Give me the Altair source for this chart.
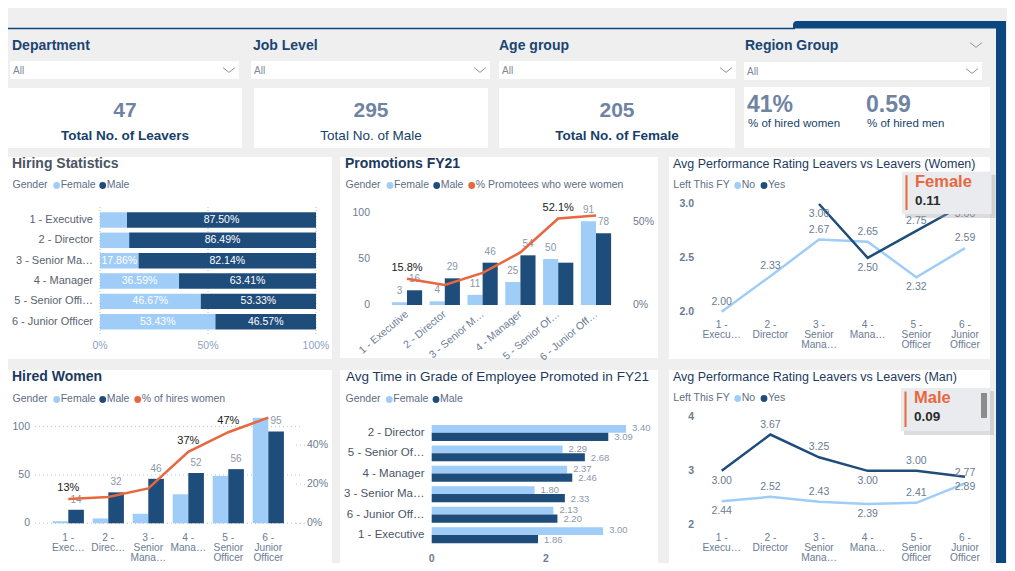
import altair as alt
import pandas as pd

# ======================= DATA =======================
filter_names = ["Department", "Job Level", "Age group", "Region Group"]
filter_values = ["All", "All", "All", "All"]

kpi_values = ["47", "295", "205"]
kpi_labels = ["Total No. of Leavers", "Total No. of Male", "Total No. of Female"]
hired_share_values = ["41%", "0.59"]
hired_share_labels = ["% of hired women", "% of hired men"]

hiring_levels = ["1 - Executive", "2 - Director", "3 - Senior Ma…", "4 - Manager",
                 "5 - Senior Offi…", "6 - Junior Officer"]
hiring_female = [12.50, 13.51, 17.86, 36.59, 46.67, 53.43]
hiring_male = [87.50, 86.49, 82.14, 63.41, 53.33, 46.57]
hiring_ticks = [0, 50, 100]

promo_levels = ["1 - Executive", "2 - Director", "3 - Senior M…", "4 - Manager",
                "5 - Senior Of…", "6 - Junior Off…"]
promo_female = [3, 4, 11, 25, 50, 91]
promo_male = [16, 29, 46, 54, 46, 78]
promo_pct_labels = ["15.8%", "", "", "", "52.1%", ""]
promo_left_ticks = [0, 50, 100]
promo_right_ticks = [0, 50]

hired_levels = ["1 -\nExec…", "2 -\nDirec…", "3 -\nSenior\nMana…", "4 -\nMana…",
                "5 -\nSenior\nOfficer", "6 -\nJunior\nOfficer"]
hired_female = [2, 5, 10, 30, 49, 112]
hired_male = [14, 32, 46, 52, 56, 95]
hired_pct_labels = ["13%", "", "", "37%", "47%", ""]
hired_left_ticks = [0, 50, 100]
hired_right_ticks = [0, 20, 40]

grade_levels = ["2 - Director", "5 - Senior Of…", "4 - Manager", "3 - Senior Ma…",
                "6 - Junior Off…", "1 - Executive"]
grade_female = [3.40, 2.29, 2.37, 1.80, 2.13, 3.00]
grade_male = [3.09, 2.68, 2.46, 2.33, 2.20, 1.86]
grade_ticks = [0, 2]

perf_levels = ["1 -\nExecu…", "2 -\nDirector", "3 -\nSenior\nMana…", "4 -\nMana…",
               "5 -\nSenior\nOfficer", "6 -\nJunior\nOfficer"]
perf_w_no = [2.00, 2.33, 2.67, 2.65, 2.32, 2.59]
perf_w_yes = [None, None, 3.00, 2.50, 2.75, 3.00]
perf_w_ticks = [2.0, 2.5, 3.0]
perf_m_no = [2.44, 2.52, 2.43, 2.39, 2.41, 2.77]
perf_m_yes = [3.00, 3.67, 3.25, 3.00, 3.00, 2.89]
perf_m_ticks = [2, 3, 4]

tooltip_names = ["Female", "Male"]
tooltip_values = ["0.11", "0.09"]

# ======================= LAYOUT / STYLE =======================
promo_male_labelled = [True, True, True, True, False, True]
perf_w_no_side = ["above", "above", "above", "above", "below", "above"]
perf_w_yes_side = ["", "", "below", "below", "above", "below"]
perf_m_no_side = ["below", "above", "above", "below", "above", "above"]
perf_m_yes_side = ["below", "above", "above", "below", "above", "below"]

OFF = 8
W, H = 999, 555
FONT = "Liberation Sans"
FEM = "#9fcdf7"
MAL = "#1f4d7b"
ORG = "#e8673e"
BG = "#efefef"
BORDER = "#0d477f"
NAVY_T = "#1a4573"
KPI_NUM = "#6f84a2"
KPI_LAB = "#173f6a"
PANEL_T = "#1c3a5e"
HS_T = "#4a5562"
LEG = "#5e6e85"
AX = "#6b7c93"
VAL = "#8a98aa"


def px(v):
    return v - OFF


BASE = pd.DataFrame({"k": [0]})
layers = []


def S(d0, d1, r0, r1, **kw):
    return alt.Scale(domain=[d0, d1], range=[px(r0), px(r1)], nice=False, zero=False, **kw)


def ax(f, sc):
    return alt.X(f, scale=sc, axis=None)


def ay(f, sc):
    return alt.Y(f, scale=sc, axis=None)


def box(x1, y1, x2, y2, fill, **kw):
    layers.append(alt.Chart(BASE).mark_rect(color=fill, **kw).encode(
        x=alt.value(px(x1)), x2=alt.value(px(x2)), y=alt.value(px(y1)), y2=alt.value(px(y2))))


def txt(s, x, y, size=10, color="#333333", weight="normal", align="left", baseline="middle"):
    layers.append(alt.Chart(BASE).mark_text(
        text=s, fontSize=size, color=color, fontWeight=weight, align=align,
        baseline=baseline, font=FONT).encode(x=alt.value(px(x)), y=alt.value(px(y))))


def dot(x, y, color):
    layers.append(alt.Chart(BASE).mark_point(shape="circle", filled=True, size=46, color=color,
                                             opacity=1).encode(x=alt.value(px(x)), y=alt.value(px(y))))


def hrule(x1, x2, y, color, width=1):
    layers.append(alt.Chart(BASE).mark_rule(color=color, strokeWidth=width).encode(
        x=alt.value(px(x1)), x2=alt.value(px(x2)), y=alt.value(px(y))))


def vrule(x, y1, y2, color, width=1):
    layers.append(alt.Chart(BASE).mark_rule(color=color, strokeWidth=width).encode(
        x=alt.value(px(x)), y=alt.value(px(y1)), y2=alt.value(px(y2))))


def chevron(x, y, color="#8a8f99"):
    layers.append(alt.Chart(BASE).mark_point(shape="M-1,-0.4L0,0.4L1,-0.4", filled=False,
                                             strokeWidth=1, size=140, color=color, opacity=1).encode(
        x=alt.value(px(x)), y=alt.value(px(y))))


def legend(title, tx, y, entries):
    txt(title, tx, y, 10.5, LEG)
    for dx, label, col in entries:
        dot(dx, y + 0.5, col)
        txt(label, dx + 4, y, 10.5, LEG)


# ---------- page decoration ----------
hrule(0, 795, 28.5, BORDER, 1.5)
box(793, 21, 1006, 28.5, BORDER, cornerRadiusTopLeft=6)
box(996, 21, 1006, 580, BORDER)

filter_x = [12, 253, 499, 745]
drop_boxes = [(10, 61, 239, 79), (251, 61, 490, 79), (499, 61, 736, 79), (744, 62, 982, 80)]
for name, val, fx, (a, b, c, d) in zip(filter_names, filter_values, filter_x, drop_boxes):
    txt(name, fx, 46, 14, NAVY_T, "bold")
    box(a, b, c, d, "white")
    txt(val, a + 3, (b + d) / 2 + 0.5, 10, "#7b8899")
    chevron(c - 10, (b + d) / 2)
chevron(976, 45)

kpi_boxes = [(8, 88, 242, 148), (254, 88, 488, 148), (499, 88, 735, 148)]
for i, (v, l, (a, b, c, d)) in enumerate(zip(kpi_values, kpi_labels, kpi_boxes)):
    box(a, b, c, d, "white")
    cx = (a + c) / 2
    txt(v, cx, 111, 21, KPI_NUM, "bold", "center")
    txt(l, cx, 136, 13.5, KPI_LAB, "normal" if i == 1 else "bold", "center")
box(744, 87, 990, 148, "white")
for v, l, sx in zip(hired_share_values, hired_share_labels, [747, 866]):
    txt(v, sx, 105, 23, KPI_NUM, "bold")
    txt(l, sx + 1, 124, 11.5, KPI_LAB)

cards = [(8, 157, 332, 359), (340, 157, 658, 358), (669, 157, 990, 359),
         (8, 370, 332, 580), (340, 370, 658, 580), (669, 370, 990, 580)]
for a, b, c, d in cards:
    box(a, b, c, d, "white")

txt("Hiring Statistics", 12, 164, 14, HS_T, "bold")
txt("Promotions FY21", 345, 164, 14, PANEL_T, "bold")
txt("Avg Performance Rating Leavers vs Leavers (Women)", 673, 164, 12.5, PANEL_T)
txt("Hired Women", 12, 377, 14, PANEL_T, "bold")
txt("Avg Time in Grade of Employee Promoted in FY21", 346, 377, 13.5, PANEL_T)
txt("Avg Performance Rating Leavers vs Leavers (Man)", 673, 377, 12.5, PANEL_T)

legend("Gender", 12.5, 185, [(56.7, "Female", FEM), (102.7, "Male", MAL)])
legend("Gender", 345.5, 185, [(390, "Female", FEM), (436.7, "Male", MAL),
                              (471.7, "% Promotees who were women", ORG)])
legend("Left This FY", 673.3, 185, [(737.7, "No", FEM), (764, "Yes", MAL)])
legend("Gender", 12.5, 399, [(56.7, "Female", FEM), (102.7, "Male", MAL),
                             (137.7, "% of hires women", ORG)])
legend("Gender", 345.5, 399, [(389.3, "Female", FEM), (436, "Male", MAL)])
legend("Left This FY", 673.3, 398, [(737.7, "No", FEM), (764, "Yes", MAL)])

# ---------- Hiring Statistics ----------
hs = pd.DataFrame({"level": hiring_levels, "female": hiring_female, "male": hiring_male})
hs["row"] = range(len(hs))
HX = S(0, 100, 100, 316)
HY = S(0, 5, 220, 321.7)
hticks = pd.DataFrame({"t": hiring_ticks})
layers.append(alt.Chart(hticks).mark_rule(color="#bdbdbd", strokeDash=[1, 2]).encode(
    x=ax("t:Q", HX), y=alt.value(px(207)), y2=alt.value(px(334))))
layers.append(alt.Chart(hticks).transform_calculate(lab="datum.t + '%'").mark_text(
    fontSize=10.5, color="#8da2c0", font=FONT).encode(
    x=ax("t:Q", HX), y=alt.value(px(346)), text="lab:N"))
hb = alt.Chart(hs).transform_calculate(
    y0="datum.row - 0.38", y1="datum.row + 0.38", z="0",
    tot="datum.female + datum.male", fmid="datum.female / 2",
    mmid="datum.female + datum.male / 2",
    flab="format(datum.female, '.2f') + '%'", mlab="format(datum.male, '.2f') + '%'")
layers.append(hb.mark_rect(color=FEM).encode(x=ax("z:Q", HX), x2="female:Q",
                                             y=ay("y0:Q", HY), y2="y1:Q"))
layers.append(hb.mark_rect(color=MAL).encode(x=ax("female:Q", HX), x2="tot:Q",
                                             y=ay("y0:Q", HY), y2="y1:Q"))
layers.append(hb.transform_filter("datum.female >= 15").mark_text(
    color="white", fontSize=10.5, font=FONT).encode(
    x=ax("fmid:Q", HX), y=ay("row:Q", HY), text="flab:N"))
layers.append(hb.mark_text(color="white", fontSize=10.5, font=FONT).encode(
    x=ax("mmid:Q", HX), y=ay("row:Q", HY), text="mlab:N"))
layers.append(hb.mark_text(align="right", fontSize=11, color="#59626f", font=FONT).encode(
    x=alt.value(px(93)), y=ay("row:Q", HY), text="level:N"))

# ---------- Promotions FY21 ----------
pr = pd.DataFrame({"level": promo_levels, "female": promo_female, "male": promo_male,
                   "pct_label": promo_pct_labels, "male_lab": promo_male_labelled})
pr["i"] = range(len(pr))
PX = S(0, 5, 407, 596)
PYL = S(0, 100, 305, 213)
PYR = S(0, 50, 305, 222)
pb = alt.Chart(pr).transform_calculate(
    z="0", fx0="datum.i - 0.4", mx1="datum.i + 0.4", fxm="datum.i - 0.2", mxm="datum.i + 0.2",
    pct="100 * datum.female / (datum.female + datum.male)")
layers.append(pb.mark_rect(color=FEM).encode(x=ax("fx0:Q", PX), x2="i:Q",
                                             y=ay("z:Q", PYL), y2="female:Q"))
layers.append(pb.mark_rect(color=MAL).encode(x=ax("i:Q", PX), x2="mx1:Q",
                                             y=ay("z:Q", PYL), y2="male:Q"))
layers.append(pb.mark_text(dy=-11, fontSize=10, color=VAL, font=FONT).encode(
    x=ax("fxm:Q", PX), y=ay("female:Q", PYL), text="female:Q"))
layers.append(pb.transform_filter("datum.male_lab").mark_text(
    dy=-11, fontSize=10, color=VAL, font=FONT).encode(
    x=ax("mxm:Q", PX), y=ay("male:Q", PYL), text="male:Q"))
layers.append(pb.mark_line(color=ORG, strokeWidth=2.5).encode(
    x=ax("i:Q", PX), y=ay("pct:Q", PYR)))
layers.append(pb.transform_filter("datum.pct_label != ''").mark_text(
    dy=-11, fontSize=11, color="#1a1a1a", font=FONT).encode(
    x=ax("i:Q", PX), y=ay("pct:Q", PYR), text="pct_label:N"))
layers.append(pb.mark_text(angle=320, align="right", fontSize=10.5, color=AX, font=FONT).encode(
    x=ax("i:Q", PX), y=alt.value(px(313)), text="level:N"))
layers.append(alt.Chart(pd.DataFrame({"t": promo_left_ticks})).mark_text(
    align="right", fontSize=10.5, color=AX, font=FONT).encode(
    x=alt.value(px(370)), y=ay("t:Q", PYL), text="t:Q"))
layers.append(alt.Chart(pd.DataFrame({"t": promo_right_ticks})).transform_calculate(
    lab="datum.t + '%'").mark_text(align="left", fontSize=10.5, color=AX, font=FONT).encode(
    x=alt.value(px(633)), y=ay("t:Q", PYR), text="lab:N"))

# ---------- Hired Women ----------
hw = pd.DataFrame({"level": hired_levels, "female": hired_female, "male": hired_male,
                   "pct_label": hired_pct_labels})
hw["i"] = range(len(hw))
HWX = S(0, 5, 68.3, 268.3)
HWYL = S(0, 109.2, 523.3, 417.7, clamp=True)
HWYR = S(0, 54.1, 523.3, 417.7)
layers.append(alt.Chart(pd.DataFrame({"t": hired_left_ticks})).mark_rule(
    color="#c4c4c4", strokeDash=[1, 3]).encode(
    x=alt.value(px(35)), x2=alt.value(px(300)), y=ay("t:Q", HWYL)))
layers.append(alt.Chart(pd.DataFrame({"t": hired_right_ticks})).mark_rule(
    color="#c4c4c4", strokeDash=[1, 3]).encode(
    x=alt.value(px(296)), x2=alt.value(px(305)), y=ay("t:Q", HWYR)))
hwb = alt.Chart(hw).transform_calculate(
    z="0", fx0="datum.i - 0.39", mx1="datum.i + 0.39", mxm="datum.i + 0.195",
    pct="100 * datum.female / (datum.female + datum.male)")
layers.append(hwb.mark_rect(color=FEM).encode(x=ax("fx0:Q", HWX), x2="i:Q",
                                              y=ay("z:Q", HWYL), y2="female:Q"))
layers.append(hwb.mark_rect(color=MAL).encode(x=ax("i:Q", HWX), x2="mx1:Q",
                                              y=ay("z:Q", HWYL), y2="male:Q"))
layers.append(hwb.mark_text(dy=-10, fontSize=10, color=VAL, font=FONT).encode(
    x=ax("mxm:Q", HWX), y=ay("male:Q", HWYL), text="male:Q"))
layers.append(hwb.mark_line(color=ORG, strokeWidth=2.5).encode(
    x=ax("i:Q", HWX), y=ay("pct:Q", HWYR)))
layers.append(hwb.transform_filter("datum.pct_label != ''").mark_text(
    dy=-11, fontSize=11, color="#1a1a1a", font=FONT).encode(
    x=ax("i:Q", HWX), y=ay("pct:Q", HWYR), text="pct_label:N"))
layers.append(hwb.mark_text(lineBreak="\n", baseline="top", lineHeight=10.2, fontSize=10.2,
                            color=AX, font=FONT).encode(
    x=ax("i:Q", HWX), y=alt.value(px(532.5)), text="level:N"))
layers.append(alt.Chart(pd.DataFrame({"t": hired_left_ticks})).mark_text(
    align="right", fontSize=10.5, color=AX, font=FONT).encode(
    x=alt.value(px(30)), y=ay("t:Q", HWYL), text="t:Q"))
layers.append(alt.Chart(pd.DataFrame({"t": hired_right_ticks})).transform_calculate(
    lab="datum.t + '%'").mark_text(align="left", fontSize=10.5, color=AX, font=FONT).encode(
    x=alt.value(px(307)), y=ay("t:Q", HWYR), text="lab:N"))

# ---------- Avg Time in Grade ----------
gd = pd.DataFrame({"level": grade_levels, "female": grade_female, "male": grade_male})
gd["row"] = range(len(gd))
GX = S(0, 3.5, 431.7, 431.7 + 3.5 * 57.15)
GY = S(0, 5, 432.7, 535)
gb = alt.Chart(gd).transform_calculate(
    z="0", f0="datum.row - 0.38", m1="datum.row + 0.4", fy="datum.row - 0.22", my="datum.row + 0.22")
layers.append(gb.mark_rect(color=FEM).encode(x=ax("z:Q", GX), x2="female:Q",
                                             y=ay("f0:Q", GY), y2="row:Q"))
layers.append(gb.mark_rect(color=MAL).encode(x=ax("z:Q", GX), x2="male:Q",
                                             y=ay("row:Q", GY), y2="m1:Q"))
layers.append(gb.mark_text(align="left", dx=6, fontSize=9.5, color=VAL, font=FONT).encode(
    x=ax("female:Q", GX), y=ay("fy:Q", GY), text=alt.Text("female:Q", format=".2f")))
layers.append(gb.mark_text(align="left", dx=6, fontSize=9.5, color=VAL, font=FONT).encode(
    x=ax("male:Q", GX), y=ay("my:Q", GY), text=alt.Text("male:Q", format=".2f")))
layers.append(gb.mark_text(align="right", fontSize=11.5, color="#4a5668", font=FONT).encode(
    x=alt.value(px(424.5)), y=ay("row:Q", GY), text="level:N"))
layers.append(alt.Chart(pd.DataFrame({"t": grade_ticks})).mark_text(
    fontSize=10.5, color=AX, font=FONT, fontWeight="bold").encode(
    x=ax("t:Q", GX), y=alt.value(px(559)), text="t:Q"))


# ---------- Avg Performance Rating charts ----------
def perf_chart(no_vals, yes_vals, no_side, yes_side, ticks, tick_fmt, y0px, y1px, d0, d1, xlab_top):
    df = pd.DataFrame({"level": perf_levels, "no": no_vals, "yes": yes_vals,
                       "no_side": no_side, "yes_side": yes_side})
    df["i"] = range(len(df))
    X = S(0, 5, 721.7, 965)
    Y = S(d0, d1, y0px, y1px)
    c = alt.Chart(df)
    layers.append(c.mark_line(color=FEM, strokeWidth=2.5).encode(x=ax("i:Q", X), y=ay("no:Q", Y)))
    layers.append(c.transform_filter("datum.yes != null").mark_line(
        color=MAL, strokeWidth=2.5).encode(x=ax("i:Q", X), y=ay("yes:Q", Y)))
    for ser in ["no", "yes"]:
        for side, dy in [("above", -10), ("below", 10)]:
            layers.append(c.transform_filter(f"datum.{ser}_side == '{side}'").mark_text(
                dy=dy, fontSize=10.5, color=AX, font=FONT).encode(
                x=ax("i:Q", X), y=ay(f"{ser}:Q", Y),
                text=alt.Text(f"{ser}:Q", format=".2f")))
    layers.append(c.mark_text(lineBreak="\n", baseline="top", lineHeight=10.3, fontSize=10.2,
                              color=AX, font=FONT).encode(
        x=ax("i:Q", X), y=alt.value(px(xlab_top)), text="level:N"))
    layers.append(alt.Chart(pd.DataFrame({"t": ticks})).mark_text(
        align="right", fontSize=10.5, color=AX, font=FONT, fontWeight="bold").encode(
        x=alt.value(px(694)), y=ay("t:Q", Y), text=alt.Text("t:Q", format=tick_fmt)))


perf_chart(perf_w_no, perf_w_yes, perf_w_no_side, perf_w_yes_side, perf_w_ticks, ".1f",
           311.7, 204, 2.0, 3.0, 319.5)
perf_chart(perf_m_no, perf_m_yes, perf_m_no_side, perf_m_yes_side, perf_m_ticks, "d",
           525, 416.7, 2, 4, 532.5)

# ---------- tooltips ----------
for (bx1, by1, bx2, by2), name, val in zip([(902, 171.7, 991.5, 214), (901, 388, 990, 431)],
                                           tooltip_names, tooltip_values):
    box(bx1 + 3, by1 + 3, bx2 + 4, by2 + 4, "#9a9a9a", opacity=0.35)
    box(bx1, by1, bx2, by2, "#e9ebef")
    vrule(bx1 + 4.5, by1 + 3.5, by2 - 4, ORG, 2)
    txt(name, bx1 + 13, by1 + 10, 16.5, ORG, "bold")
    txt(val, bx1 + 13, by1 + 29, 13.5, "#2b2b2b", "bold")
box(981, 393, 987, 418, "#8c8c8c")

chart = alt.layer(*layers).resolve_scale(x="independent", y="independent").properties(
    width=W, height=H, autosize=alt.AutoSizeParams(type="none"), padding=0, background=BG
).configure_view(stroke="transparent")

chart.save("out.html", embed_options={"renderer": "svg", "actions": False})
